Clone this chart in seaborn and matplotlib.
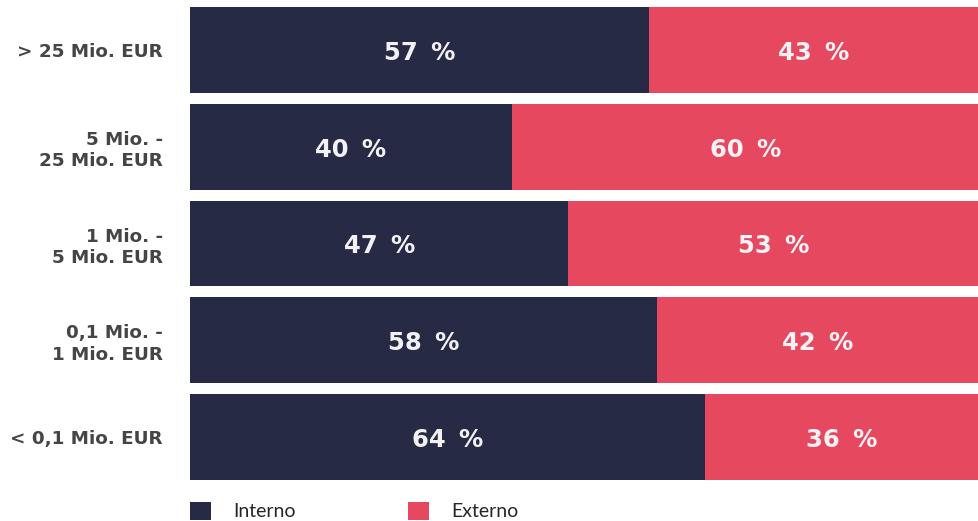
import matplotlib
matplotlib.use("Agg")
import matplotlib.pyplot as plt
import seaborn as sns
import pandas as pd
from matplotlib.patches import Patch

categories = ["> 25 Mio. EUR", "5 Mio. -\n25 Mio. EUR", "1 Mio. -\n5 Mio. EUR",
              "0,1 Mio. -\n1 Mio. EUR", "< 0,1 Mio. EUR"]
interno = [57, 40, 47, 58, 64]
externo = [43, 60, 53, 42, 36]
series_names = ["Interno", "Externo"]

navy = "#262a45"
pink = "#e6495f"

sns.set_theme(style="white")
plt.rcParams["font.family"] = ["DejaVu Sans"]

df = pd.DataFrame({"cat": categories, "Interno": interno, "Externo": externo})
df["total"] = df["Interno"] + df["Externo"]

W, H = 979, 521
fig = plt.figure(figsize=(W / 100, H / 100), dpi=100)
ax = fig.add_axes([190 / W, 41 / H, 1 - 190 / W, 473 / H])

bw = 0.886
sns.barplot(data=df, x="total", y="cat", color=pink, width=bw, ax=ax,
            orient="h", saturation=1, linewidth=0)
sns.barplot(data=df, x="Interno", y="cat", color=navy, width=bw, ax=ax,
            orient="h", saturation=1, linewidth=0)

xmax = 98
ax.set_xlim(0, xmax)
ax.set_ylim(len(categories) - 1 + bw / 2, -bw / 2)

for i, (a, b) in enumerate(zip(interno, externo)):
    ax.text(a / 2, i + 0.03, f"{a}\u2009 %", ha="center", va="center", color="#f2f2f5",
            fontsize=17.5, fontweight="bold")
    ax.text((a + min(a + b, xmax)) / 2, i + 0.03, f"{b}\u2009 %", ha="center", va="center",
            color="#f2f2f5", fontsize=17.5, fontweight="bold")

ax.set_xlabel("")
ax.set_ylabel("")
ax.set_xticks([])
ax.tick_params(axis="y", length=0, pad=19.5)
for lbl in ax.get_yticklabels():
    lbl.set_fontsize(13.2)
    lbl.set_fontweight("bold")
    lbl.set_color("#454545")
    lbl.set_horizontalalignment("right")
    lbl.set_multialignment("right")
    lbl.set_linespacing(1.25)
sns.despine(ax=ax, left=True, bottom=True, top=True, right=True)

handles = [Patch(facecolor=navy, edgecolor="none"), Patch(facecolor=pink, edgecolor="none")]
fig.legend(handles, series_names, loc="center left", bbox_to_anchor=(190 / W, 10 / H),
           ncol=2, frameon=False, borderpad=0, borderaxespad=0,
           prop={"family": "Lato", "size": 14},
           handlelength=1.1, handleheight=1.1, handletextpad=1.1, columnspacing=5.8)

fig.savefig("out.png", dpi=100)
